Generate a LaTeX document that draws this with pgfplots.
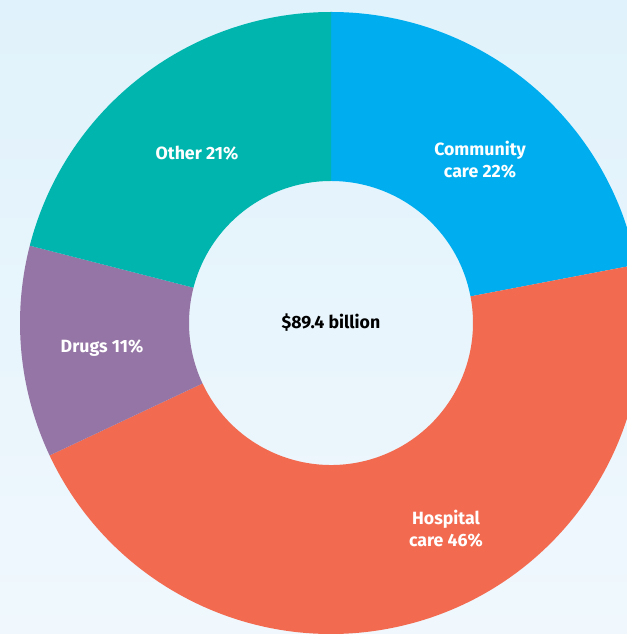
\documentclass[border=0pt]{standalone}
\usepackage{pgfplots}
\pgfplotsset{compat=1.18}
\usepackage{fontspec}
\setmainfont{Fira Sans}

\definecolor{bgtop}{HTML}{E0F2FB}
\definecolor{bgbot}{HTML}{F0F8FD}
\definecolor{community}{HTML}{00AEEF}
\definecolor{hospital}{HTML}{F26B51}
\definecolor{drugs}{HTML}{9575A5}
\definecolor{other}{HTML}{00B5AD}

% donut sector from cumulative percent #1 to #2, clockwise from the top
\newcommand{\slice}[3]{%
  \fill[#3] ([shift={({90-3.6*#1}:311bp)}]axis cs:331,311)
    arc[start angle={90-3.6*#1}, end angle={90-3.6*#2}, radius=311bp]
    -- ([shift={({90-3.6*#2}:142bp)}]axis cs:331,311)
    arc[start angle={90-3.6*#2}, end angle={90-3.6*#1}, radius=142bp]
    -- cycle;}

\begin{document}
\begin{tikzpicture}
\useasboundingbox (0,0) rectangle (627bp,634bp);
\clip (0,0) rectangle (627bp,634bp);
\shade[top color=bgtop, bottom color=bgbot] (0,0) rectangle (627bp,634bp);
\begin{axis}[
    at={(0,0)}, anchor=south west,
    scale only axis, width=627bp, height=634bp,
    xmin=0, xmax=627, ymin=0, ymax=634,
    hide axis, clip=false,
    nodes={font=\fontsize{17.8}{22}\selectfont\bfseries, align=center},
  ]
  \slice{0}{22}{community}
  \slice{22}{68}{hospital}
  \slice{68}{79}{drugs}
  \slice{79}{100}{other}

  \node[white] at (axis cs:480,474) {Community\\care 22\%};
  \node[white] at (axis cs:446,105) {Hospital\\care 46\%};
  \node[white] at (axis cs:102,286) {Drugs 11\%};
  \node[white] at (axis cs:197,481) {Other 21\%};
  \node[black] at (axis cs:331,311) {\$89.4 billion};
\end{axis}
\end{tikzpicture}
\end{document}
